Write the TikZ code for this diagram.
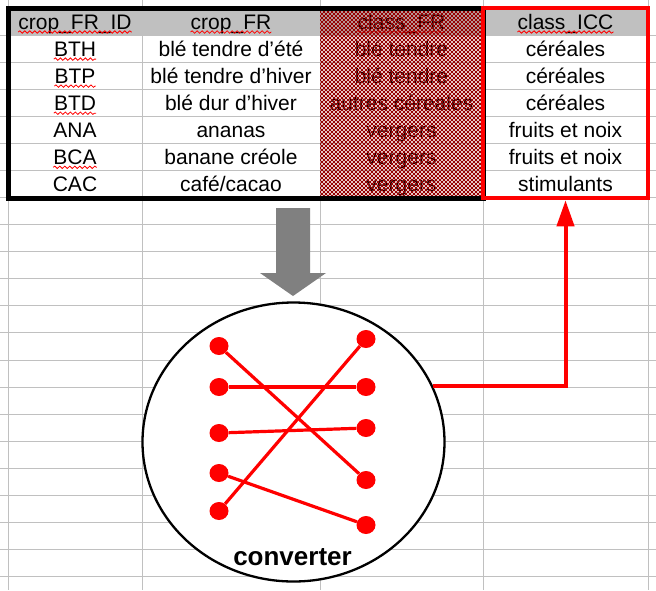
\documentclass[tikz,border=0pt]{standalone}
\usepackage{fontspec}
\setmainfont{Liberation Sans}
\usetikzlibrary{arrows.meta,shapes.geometric,decorations.pathmorphing}
\definecolor{gridc}{RGB}{192,192,192}
\definecolor{hdr}{RGB}{192,192,192}
\definecolor{hatchc}{RGB}{150,0,0}
\definecolor{arrowgray}{RGB}{128,128,128}
\definecolor{pure}{RGB}{255,0,0}
\begin{document}
\begin{tikzpicture}[x=1pt,y=-1pt,
  gridline/.style={draw=gridc, line width=0.8pt},
  cell/.style={anchor=base, inner sep=0pt, font=\fontsize{21}{25}\selectfont},
  squig/.style={draw=pure, line width=0.8pt, decorate, decoration={snake, segment length=5pt, amplitude=1.2pt}},
  dot/.style={ellipse, fill=pure, minimum width=19pt, minimum height=18pt, inner sep=0pt},
  link/.style={draw=pure, line width=3.2pt},
  hatchline/.style={draw=hatchc, line width=0.75pt},
]
\useasboundingbox (0,0) rectangle (656,590);
\fill[white] (0,0) rectangle (656,590);
% header background
\fill[hdr] (8.5,8) rectangle (648,35.6);
% spreadsheet grid
\foreach \k in {1,...,21} \draw[gridline] (0,{8+27.07*\k}) -- (656,{8+27.07*\k});
\foreach \x in {8.5,142,320,483,648} \draw[gridline] (\x,0) -- (\x,590);
% header texts
\node[cell] (a1) at (75,29.5) {crop\_FR\_ID};
\node[cell] (a2) at (231,29.5) {crop\_FR};
\node[cell] (a3) at (401.5,29.5) {class\_FR};
\node[cell] (a4) at (565.5,29.5) {class\_ICC};
% column 1
\node[cell] (h1) at (75,56.6) {BTH};
\node[cell] (h2) at (75,83.6) {BTP};
\node[cell] (h3) at (75,110.7) {BTD};
\node[cell] (h4) at (75,137.8) {ANA};
\node[cell] (h5) at (75,164.8) {BCA};
\node[cell] (h6) at (75,191.9) {CAC};
% column 2
\node[cell] (b1) at (231,56.6) {blé tendre d’été};
\node[cell] (b2) at (231,83.6) {blé tendre d’hiver};
\node[cell] (b3) at (231,110.7) {blé dur d’hiver};
\node[cell] (b4) at (231,137.8) {ananas};
\node[cell] (b5) at (231,164.8) {banane créole};
\node[cell] (b6) at (231,191.9) {café/cacao};
% column 3
\node[cell] (c1) at (401.5,56.6) {blé tendre};
\node[cell] (c2) at (401.5,83.6) {blé tendre};
\node[cell] (c3) at (401.5,110.7) {autres céreales};
\node[cell] (c4) at (401.5,137.8) {vergers};
\node[cell] (c5) at (401.5,164.8) {vergers};
\node[cell] (c6) at (401.5,191.9) {vergers};
% column 4
\node[cell] (d1) at (565.5,56.6) {céréales};
\node[cell] (d2) at (565.5,83.6) {céréales};
\node[cell] (d3) at (565.5,110.7) {céréales};
\node[cell] (d4) at (565.5,137.8) {fruits et noix};
\node[cell] (d5) at (565.5,164.8) {fruits et noix};
\node[cell] (d6) at (565.5,191.9) {stimulants};
% spell-check squiggles
\foreach \n in {a1,a2,a3,a4,h1,h2,h3,h5}
  \draw[squig] ([yshift=-2.5pt]\n.base west) -- ([yshift=-2.5pt]\n.base east);
% hatched column
\begin{scope}
  \clip (320,8) rectangle (483,198);
  \foreach \c in {100,104,...,492} \draw[hatchline] (\c,0) -- ({\c+210},210);
  \foreach \c in {316,320,...,708} \draw[hatchline] (\c,0) -- ({\c-210},210);
\end{scope}
% table frames
\node[draw=black, line width=5pt, minimum width=474.5pt, minimum height=190pt, inner sep=0pt] (fr) at (245.75,103) {};
\node[draw=pure, line width=4.5pt, minimum width=165pt, minimum height=190pt, inner sep=0pt] (icc) at (565.5,103) {};
% gray block arrow
\fill[arrowgray] (276,208) -- (310,208) -- (310,273) -- (326,273) -- (293,296) -- (260,273) -- (276,273) -- cycle;
% converter
\node[ellipse, draw=black, line width=2.3pt, fill=white, minimum width=302pt, minimum height=279pt, inner sep=0pt] (conv) at (293.5,442) {};
\node[anchor=base, inner sep=0pt, font=\bfseries\fontsize{26}{30}\selectfont] (convlabel) at (292.5,565) {converter};
\node[dot] (L1) at (219,346) {};
\node[dot] (L2) at (219,387) {};
\node[dot] (L3) at (219,433) {};
\node[dot] (L4) at (219,473) {};
\node[dot] (L5) at (219,511) {};
\node[dot] (R1) at (366,339) {};
\node[dot] (R2) at (366,387) {};
\node[dot] (R3) at (366,428) {};
\node[dot] (R4) at (366,480) {};
\node[dot] (R5) at (366,525) {};
\draw[link] (L1) -- (R4);
\draw[link] (L2) -- (R2);
\draw[link] (L3) -- (R3);
\draw[link] (L4) -- (R5);
\draw[link] (L5) -- (R1);
% red output connector
\draw[draw=pure, line width=4pt, -{Triangle[length=26pt,width=17pt]}] (conv.22.5) -| (icc.south);
\end{tikzpicture}
\end{document}
